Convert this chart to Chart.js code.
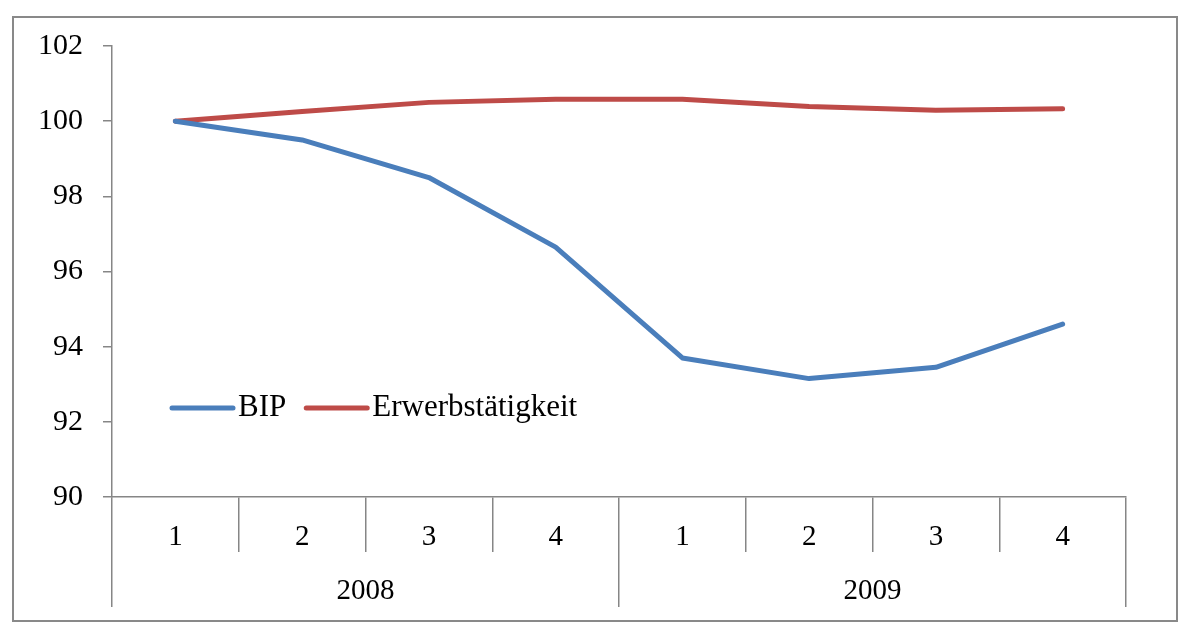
<!DOCTYPE html>
<html>
<head>
<meta charset="utf-8">
<script src="https://cdn.jsdelivr.net/npm/chart.js@4"></script>
<style>
  html, body { margin: 0; padding: 0; background: #fff; }
  #frame {
    position: absolute; left: 12px; top: 16px;
    width: 1166px; height: 606px;
    box-sizing: border-box;
    border: 2px solid #898989;
  }
</style>
</head>
<body>
<div id="frame"><canvas id="chart"></canvas></div>
<script>
const quarters = ['1', '2', '3', '4', '1', '2', '3', '4'];
const years = ['2008', '2009'];
const bip = [100, 99.5, 98.5, 96.65, 93.7, 93.15, 93.45, 94.6];
const erwerb = [100, 100.26, 100.5, 100.58, 100.58, 100.39, 100.29, 100.33];
const yTicks = { min: 90, max: 102, step: 2 };

const font = { family: '"Liberation Serif", "Times New Roman", serif', size: 29 };
const legendSize = 31;
const axisGray = '#868686';

// legend drawn inside the plot, lower left
const innerLegend = {
    id: 'innerLegend',
    afterDatasetsDraw(chart) {
        const ctx = chart.ctx;
        const area = chart.chartArea;
        let x = area.left + 60;
        const y = area.top + 362;
        ctx.save();
        ctx.font = legendSize + 'px ' + font.family;
        ctx.textBaseline = 'middle';
        chart.data.datasets.forEach(ds => {
            ctx.strokeStyle = ds.borderColor;
            ctx.lineWidth = 5;
            ctx.lineCap = 'round';
            ctx.beginPath();
            ctx.moveTo(x, y);
            ctx.lineTo(x + 61, y);
            ctx.stroke();
            x += 66;
            ctx.fillStyle = '#000';
            ctx.fillText(ds.label, x, y);
            x += ctx.measureText(ds.label).width + 20;
        });
        ctx.restore();
    }
};

new Chart(document.getElementById('chart'), {
    type: 'line',
    data: {
        labels: quarters,
        datasets: [{
            label: 'BIP',
            data: bip,
            borderColor: '#4a7ebb',
            borderWidth: 5,
            borderCapStyle: 'round',
            borderJoinStyle: 'round',
            pointRadius: 0,
            tension: 0
        }, {
            label: 'Erwerbstätigkeit',
            data: erwerb,
            borderColor: '#be4b48',
            borderWidth: 5,
            borderCapStyle: 'round',
            borderJoinStyle: 'round',
            pointRadius: 0,
            tension: 0
        }]
    },
    options: {
        responsive: true,
        maintainAspectRatio: false,
        animation: false,
        layout: { padding: { top: 28, right: 50, bottom: 13, left: 0 } },
        plugins: {
            legend: { display: false },
            tooltip: { enabled: false }
        },
        scales: {
            y: {
                min: yTicks.min,
                max: yTicks.max,
                afterFit: s => { s.width = 98; s.paddingTop = 0; s.paddingBottom = 0; },
                ticks: { stepSize: yTicks.step, color: '#000', font: { family: font.family, size: 30 }, padding: 20 },
                grid: { drawOnChartArea: false, drawTicks: true, tickLength: 9, color: axisGray, lineWidth: 1.5 },
                border: { color: axisGray, width: 1.5 }
            },
            x: {
                offset: true,
                afterFit: s => { s.height = 55; },
                ticks: { color: '#000', font: font, padding: -32, maxRotation: 0, autoSkip: false },
                grid: { offset: true, drawOnChartArea: false, drawTicks: true, tickLength: 55, color: axisGray, lineWidth: 1.5 },
                border: { color: axisGray, width: 1.5 }
            },
            x2: {
                type: 'category',
                position: 'bottom',
                labels: years,
                offset: true,
                afterFit: s => { s.height = 55; },
                ticks: { color: '#000', font: font, padding: -33, maxRotation: 0, autoSkip: false },
                grid: { offset: true, drawOnChartArea: false, drawTicks: true, tickLength: 55, color: axisGray, lineWidth: 1.5 },
                border: { display: false }
            }
        }
    },
    plugins: [innerLegend]
});
</script>
</body>
</html>
